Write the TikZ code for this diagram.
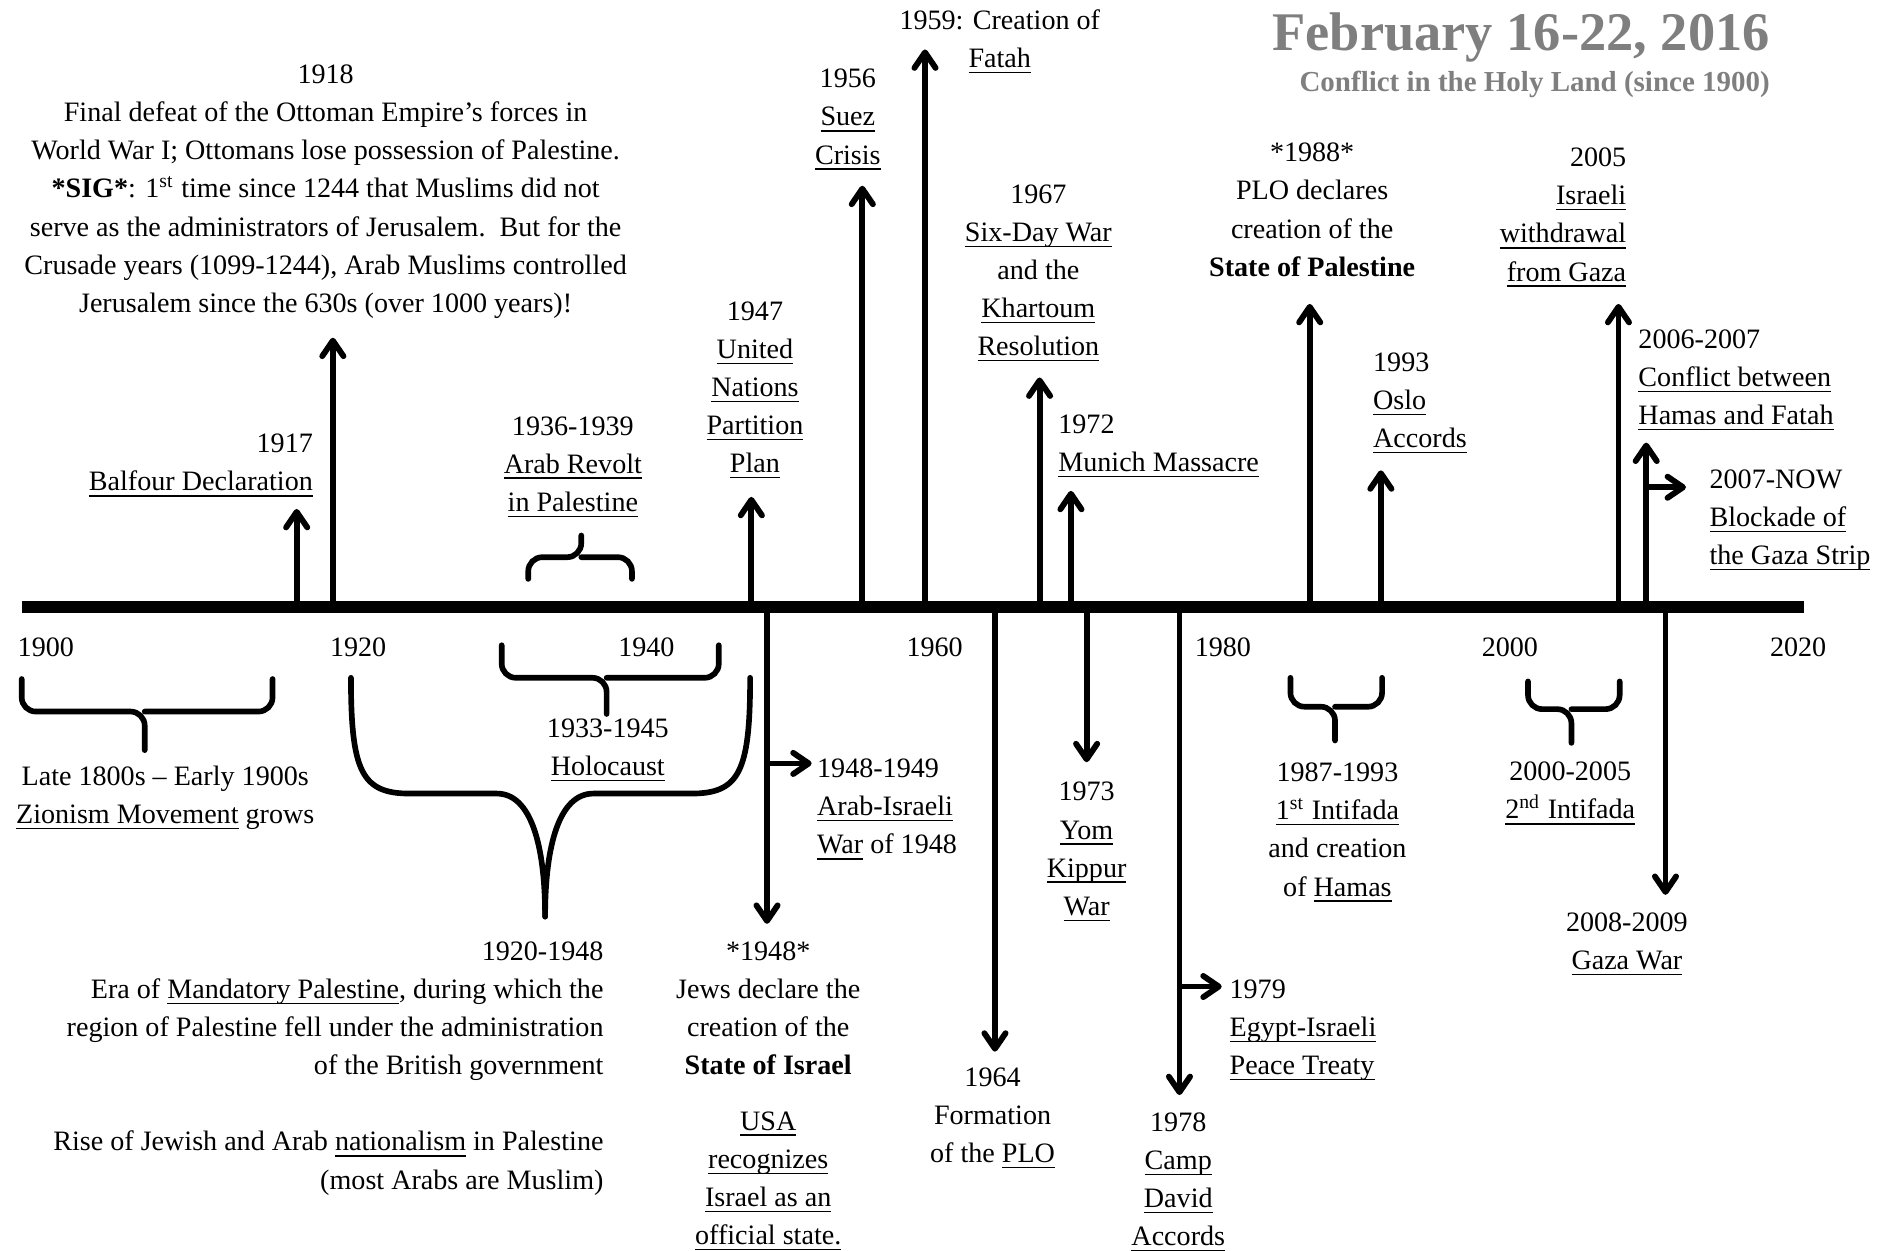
\documentclass[tikz,border=0pt]{standalone}
\usepackage{fontspec}
\setmainfont{Liberation Serif}
\usetikzlibrary{arrows.meta,positioning}
\newcommand{\undl}[1]{\underline{\smash{#1}}}
\definecolor{titlegray}{RGB}{127,127,127}

\begin{document}
\begin{tikzpicture}[x=0.012cm,y=-0.012cm,
  every node/.style={inner sep=0pt,font=\fontsize{7.95}{10.8}\selectfont},
  lbl/.style={align=center,anchor=base},
  lbll/.style={align=left,anchor=base west},
  lblr/.style={align=right,anchor=base east},
  evt/.style={line width=1.65pt,-{Straight Barb[length=4.4pt,width=6pt,round]}},
  brc/.style={line width=1.6pt,rounded corners=4pt,line cap=round}]
\useasboundingbox (0,0) rectangle (1568,1037);
%TITLE
\node[lblr,text=titlegray,font=\fontsize{15.4}{18}\selectfont\bfseries] (title) at (1468,42) {February 16-22, 2016};
\node[lblr,text=titlegray,font=\fontsize{8.2}{10.8}\selectfont\bfseries] (subtitle) at (1468,76) {Conflict in the Holy Land (since 1900)};
%AXIS
\coordinate (axL) at (18,503);
\coordinate (axR) at (1496,503);
\draw[line width=3.4pt] (axL) -- (axR);
\foreach \yr/\xx in {1900/38,1920/297,1940/536,1960/775,1980/1014,2000/1252,2020/1491}
  \node[lbl] (y\yr) at (\xx,544) {\yr};
%ARROWS UP
\foreach \ev/\xx/\tip in {1917/246/422,1918/276/280,1947/623/412,1956/715/154,1959/767/41,1967/862/313,1972/888/407,1988/1086/252,1993/1145/390,2005/1342/252,2006/1365/367}{
  \coordinate (b\ev) at (\xx,503);
  \coordinate (t\ev) at (\xx,\tip);
  \draw[evt] (b\ev) -- (t\ev);
}
%ARROWS DOWN
\foreach \ev/\xx/\tip in {1948/636/766,1964/825/872,1973/901/632,1978/978/908,2008/1381/742}{
  \coordinate (b\ev) at (\xx,503);
  \coordinate (t\ev) at (\xx,\tip);
  \draw[evt] (b\ev) -- (t\ev);
}
%SIDE ARROWS
\coordinate (k1948) at (636,633);  \coordinate (r1948) at (673,633);
\coordinate (k1978) at (978,818);  \coordinate (r1978) at (1013,818);
\coordinate (k2006) at (1365,404); \coordinate (r2006) at (1398,404);
\draw[evt] (k1948) -- (r1948);
\draw[evt] (k1978) -- (r1978);
\draw[evt] (k2006) -- (r2006);
%BRACES
\draw[brc] (18,563) |- (120,590) -- (120,622);
\draw[brc] (226,563) |- (120,590);
\draw[brc] (438,480) |- (482,462) -- (482,444);
\draw[brc] (524,480) |- (482,462);
\draw[brc] (416,535) |- (503,562) -- (503,592);
\draw[brc] (596,535) |- (503,562);
\draw[brc] (1070,562) |- (1107,586) -- (1107,614);
\draw[brc] (1146,562) |- (1107,586);
\draw[brc] (1267,565) |- (1303,588) -- (1303,616);
\draw[brc] (1343,565) |- (1303,588);
\draw[line width=1.6pt,line cap=round] (291,562) .. controls (291,640) and (300,658) .. (340,658) -- (412,658) .. controls (440,658) and (452,700) .. (452,760);
\draw[line width=1.6pt,line cap=round] (622,562) .. controls (622,640) and (613,658) .. (573,658) -- (492,658) .. controls (464,658) and (452,700) .. (452,760);
%LABELS ABOVE (anchored at the last line)
\node[lbl] (n1918) at (270,259) {1918\\Final defeat of the Ottoman Empire’s forces in\\World War I; Ottomans lose possession of Palestine.\\\textbf{*SIG*}: 1\textsuperscript{st} time since 1244 that Muslims did not\\serve as the administrators of Jerusalem.\ \ But for the\\Crusade years (1099-1244), Arab Muslims controlled\\Jerusalem since the 630s (over 1000 years)!};
\node[lblr] (n1917) at (260,407) {1917\\\undl{Balfour Declaration}};
\node[lbl] (n1936) at (475,424) {1936-1939\\\undl{Arab Revolt}\\\undl{in Palestine}};
\node[lbl] (n1947) at (626,392) {1947\\\undl{United}\\\undl{Nations}\\\undl{Partition}\\\undl{Plan}};
\node[lbl] (n1956) at (703,136) {1956\\\undl{Suez}\\\undl{Crisis}};
\node[lbl] (n1959) at (829,56) {1959: Creation of\\\undl{Fatah}};
\node[lbl] (n1967) at (861,295) {1967\\\undl{Six-Day War}\\and the\\\undl{Khartoum}\\\undl{Resolution}};
\node[lbll] (n1972) at (877,391) {1972\\\undl{Munich Massacre}};
\node[lbl] (n1988) at (1088,229) {*1988*\\PLO declares\\creation of the\\\textbf{State of Palestine}};
\node[lbll] (n1993) at (1138,371) {1993\\\undl{Oslo}\\\undl{Accords}};
\node[lblr] (n2005) at (1349,233) {2005\\\undl{Israeli}\\\undl{withdrawal}\\\undl{from Gaza}};
\node[lbll] (n2006) at (1358,352) {2006-2007\\\undl{Conflict between}\\\undl{Hamas and Fatah}};
\node[lbll] (n2007) at (1417,468) {2007-NOW\\\undl{Blockade of}\\\undl{the Gaza Strip}};
%LABELS BELOW
\node[lbl] (nZion) at (137,683) {Late 1800s – Early 1900s\\\undl{Zionism Movement} grows};
\node[lbl] (nHolo) at (504,643) {1933-1945\\\undl{Holocaust}};
\node[lbll] (n1949) at (677,708) {1948-1949\\\undl{Arab-Israeli}\\\undl{War} of 1948};
\node[lblr] (nMand) at (501,986) {1920-1948\\Era of \undl{Mandatory Palestine}, during which the\\region of Palestine fell under the administration\\of the British government\\[10.8pt]Rise of Jewish and Arab \undl{nationalism} in Palestine\\(most Arabs are Muslim)};
\node[lbl] (n1948) at (637,1032) {*1948*\\Jews declare the\\creation of the\\\textbf{State of Israel}\\[4.8pt]\undl{USA}\\\undl{recognizes}\\\undl{Israel as an}\\\undl{official state.}};
\node[lbl] (n1973) at (901,759) {1973\\\undl{Yom}\\\undl{Kippur}\\\undl{War}};
\node[lbl] (n1964) at (823,964) {1964\\Formation\\of the \undl{PLO}};
\node[lbl] (n1978) at (977,1033) {1978\\\undl{Camp}\\\undl{David}\\\undl{Accords}};
\node[lbll] (n1979) at (1019,891) {1979\\\undl{Egypt-Israeli}\\\undl{Peace Treaty}};
\node[lbl] (n1987) at (1109,743) {1987-1993\\\undl{1\textsuperscript{st} Intifada}\\and creation\\of \undl{Hamas}};
\node[lbl] (n2000) at (1302,679) {2000-2005\\\undl{2\textsuperscript{nd} Intifada}};
\node[lbl] (n2008) at (1349,804) {2008-2009\\\undl{Gaza War}};
\end{tikzpicture}
\end{document}
